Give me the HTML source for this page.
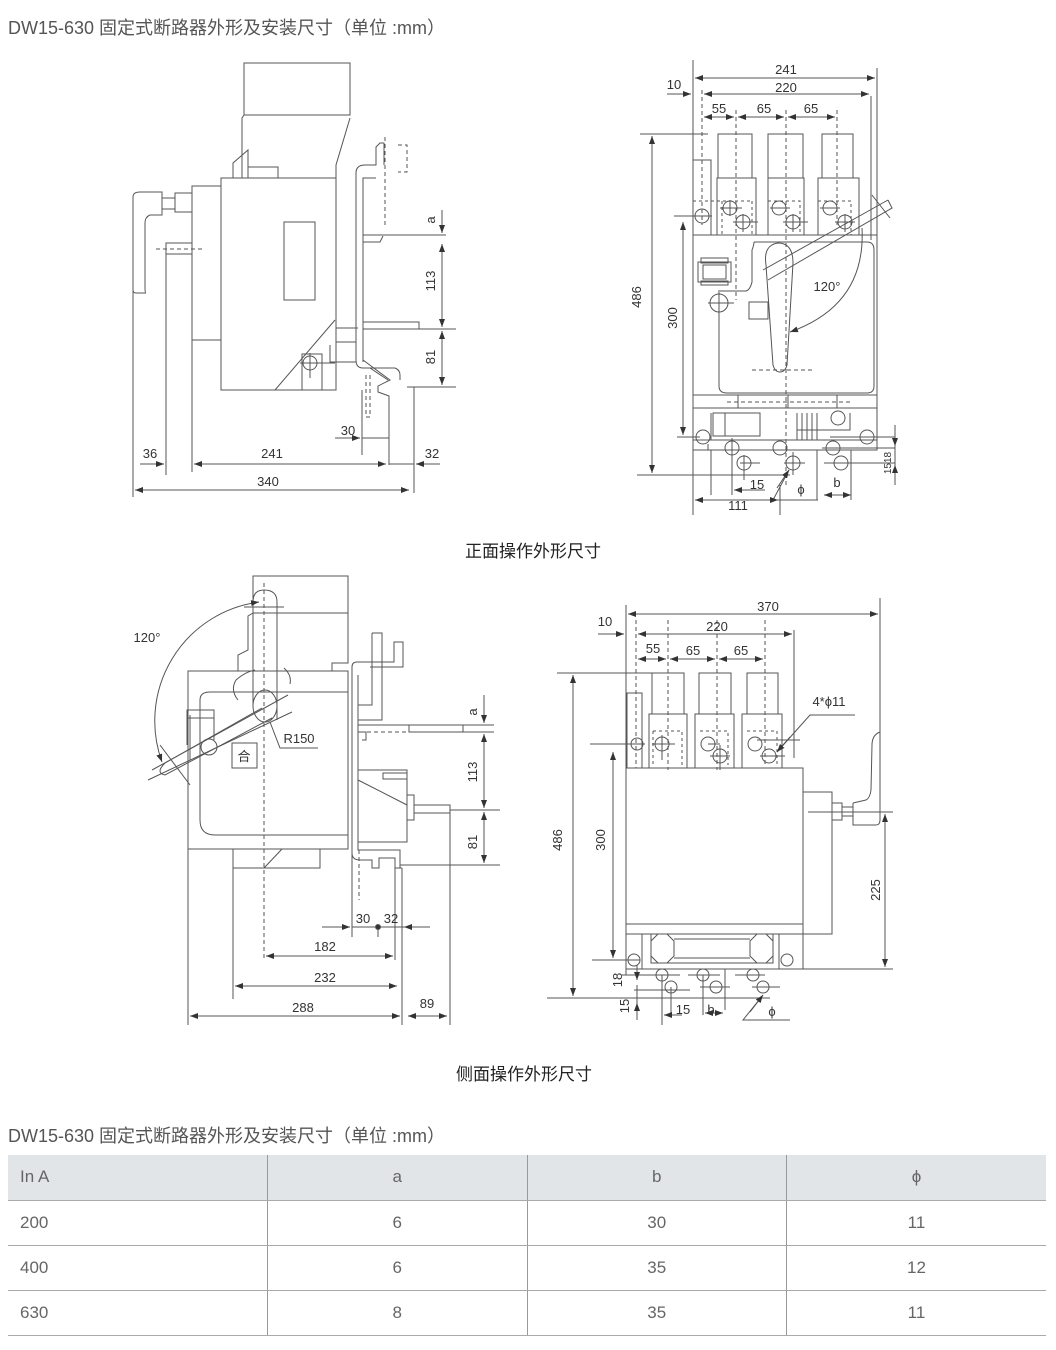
<!DOCTYPE html>
<html><head><meta charset="utf-8">
<style>
html,body{margin:0;padding:0;background:#fff;}
body{width:1056px;height:1350px;position:relative;overflow:hidden;font-family:"Liberation Sans","Noto Sans CJK SC",sans-serif;color:#555;}
.t{position:absolute;font-size:18px;color:#555;white-space:nowrap;}
svg{position:absolute;left:0;top:0;}
svg text{font-family:"Liberation Sans","Noto Sans CJK SC",sans-serif;fill:#333;font-size:13px;}
table{position:absolute;left:8px;top:1155px;width:1038px;border-collapse:collapse;table-layout:fixed;font-size:17px;color:#666;}
td{height:45px;border-bottom:1px solid #aaa;border-left:1px solid #999;text-align:center;padding:0;box-sizing:border-box;}
td:first-child{border-left:none;text-align:left;padding-left:12px;}
tr.h td{background:#e1e5e8;}
</style></head><body>
<div class="t" style="left:8px;top:14px;">DW15-630 固定式断路器外形及安装尺寸（单位 :mm）</div>
<div class="t" style="left:465px;top:537px;color:#222;font-size:17px;">正面操作外形尺寸</div>
<div class="t" style="left:456px;top:1060px;color:#222;font-size:17px;">侧面操作外形尺寸</div>
<div class="t" style="left:8px;top:1122px;">DW15-630 固定式断路器外形及安装尺寸（单位 :mm）</div>
<svg width="1056" height="1150" viewBox="0 0 1056 1150">
<defs><marker id="a" markerWidth="8" markerHeight="6" refX="8" refY="3" orient="auto-start-reverse" markerUnits="userSpaceOnUse"><path d="M0,0L8,3L0,6z" fill="#333"/></marker></defs>
<g fill="none" stroke="#555" stroke-width="1">
<!-- Drawing 1 -->
<rect x="244" y="63" width="106" height="52"/>
<path d="M244,115L242,118V178M350,118L336,165V178"/>
<path d="M233,178V163L248,150V178"/>
<rect x="248" y="167" width="30" height="11"/>
<rect x="221" y="178" width="115" height="212"/>
<rect x="284" y="222" width="31" height="78"/>
<path d="M192,472V186H221M192,340H221"/>
<path d="M146,293H136Q133,293 133,290V197Q133,192 140,192H162V215H150Q145,217 145,223V288Q145,293 146,293M133,290V497"/>
<rect x="162" y="198" width="13" height="11"/><rect x="175" y="193" width="17" height="19"/>
<rect x="166" y="243" width="26" height="11"/><path d="M166,254V475"/>
<path d="M156,249H203" stroke-dasharray="4,3"/>
<path d="M275,390L335,320"/>
<rect x="302" y="354" width="20" height="36"/><circle cx="310" cy="363" r="7"/><path d="M300,363H335M310,353V378"/>
<path d="M336,328H358M330,345V362H356M336,342H356"/>
<path d="M356,360V173Q356,165 365,165H376V147L380,143H384V165"/>
<path d="M363,362V178H376"/>
<path d="M363,235H446M363,242H380L383,236M363,322H419V329M363,329H456M407,387H456"/>
<path d="M356,360Q356,368 363,368H370L388,380"/>
<path d="M363,360L390,380L378,386V392L389,396V465M370,368H395Q400,370 400,375V380"/>
<path d="M385,137V225M398,145H407V172H398" stroke-dasharray="4,3"/>
<path d="M366,375V417H370V375" stroke-dasharray="4,3"/>
<path d="M362,390V455M414,387V493"/>
<path d="M442,210V233" marker-end="url(#a)"/><path d="M442,244V327" marker-start="url(#a)" marker-end="url(#a)"/><path d="M442,331V385" marker-start="url(#a)" marker-end="url(#a)"/>
<path d="M140,464H164" marker-end="url(#a)"/><path d="M194,464H386" marker-start="url(#a)" marker-end="url(#a)"/><path d="M389,464H414M440,464H416" marker-end="url(#a)"/>
<path d="M335,438H360" marker-end="url(#a)"/><path d="M362,438H389"/>
<path d="M135,490H409" marker-start="url(#a)" marker-end="url(#a)"/>
<!-- Drawing 2 -->
<path d="M693,60V515M877,68V246"/>
<path d="M695,78H875" marker-start="url(#a)" marker-end="url(#a)"/>
<path d="M667,94H691" marker-end="url(#a)"/><path d="M704,94H869" marker-start="url(#a)" marker-end="url(#a)"/>
<path d="M704,117H734" marker-start="url(#a)" marker-end="url(#a)"/><path d="M738,117H784" marker-start="url(#a)" marker-end="url(#a)"/><path d="M788,117H835" marker-start="url(#a)" marker-end="url(#a)"/>
<path d="M871,96V240"/>
<path d="M702,90V225M736,110V300M786,110V485M837,110V225" stroke-dasharray="4,3"/>
<path d="M640,134H708M637,475H790"/>
<path d="M652,136V473" marker-start="url(#a)" marker-end="url(#a)"/>
<path d="M683,222V435" marker-start="url(#a)" marker-end="url(#a)"/>
<path d="M677,437H700"/>
<rect x="718" y="134" width="34" height="44"/><rect x="768" y="134" width="35" height="44"/><rect x="822" y="134" width="31" height="44"/>
<rect x="717" y="178" width="39" height="57"/><rect x="768" y="178" width="36" height="57"/><rect x="818" y="178" width="41" height="57"/>
<rect x="693" y="160" width="18" height="75"/>
<path d="M693,201H752M722,201V235M752,201V235M768,201H800V235M818,201H851V235" stroke-dasharray="3,3"/>
<rect x="693" y="235" width="184" height="160"/>
<path d="M754,242H867Q874,242 874,250V386Q874,393 867,393H727Q719,393 719,386V303M754,242Q754,245 752,250V282Q750,290 746,291H720"/>
<rect x="698" y="262" width="33" height="20"/><rect x="701" y="258" width="27" height="5"/><rect x="701" y="281" width="27" height="4"/><rect x="703" y="265" width="23" height="14"/>
<rect x="749" y="302" width="19" height="17"/>
<path d="M766,265Q763,245 778,243Q793,243 793,263L787,365Q785,372 780,372Q775,372 773,365Z"/>
<path d="M763,270L888,200M768,280L892,208M888,200L892,208L768,280" />
<path d="M872,195L890,218"/>
<path d="M862,228Q866,305 790,332" marker-end="url(#a)"/>
<path d="M752,370H812" stroke-dasharray="4,3"/>
<path d="M693,395V408H877V395M693,408V440H877V408"/>
<path d="M738,395V408M788,395V408M837,395V408"/>
<path d="M727,402H850" stroke-dasharray="4,3"/>
<rect x="713" y="413" width="47" height="23"/><path d="M725,413V436M711,413V440"/>
<path d="M797,413V440M802,413V440M807,413V440M812,413V440M817,413V440M797,430H850V413"/>
<path d="M693,440V450H708V444M708,450H877V440"/>
<path d="M817,450V500M711,450V495"/>
<g>
<circle cx="702" cy="216" r="7"/><circle cx="730" cy="208" r="7"/><circle cx="743" cy="222" r="7"/><circle cx="779" cy="208" r="7"/><circle cx="793" cy="222" r="7"/><circle cx="830" cy="208" r="7"/><circle cx="845" cy="222" r="7"/>
<circle cx="719" cy="303" r="9"/>
<circle cx="703" cy="437" r="7"/><circle cx="867" cy="437" r="7"/><circle cx="732" cy="448" r="7"/><circle cx="744" cy="463" r="7"/><circle cx="780" cy="448" r="7"/><circle cx="793" cy="463" r="7"/><circle cx="833" cy="448" r="7"/><circle cx="841" cy="463" r="7"/><circle cx="838" cy="418" r="7"/>
</g>
<path d="M674,216H712M719,290V316M708,303H734M720,208H742M733,222H758M770,208H790M783,222H808M820,208H840M835,222H855M730,200V216M743,214V232M793,214V232M845,214V232"/>
<path d="M732,438V495M744,455V480M740,463H760M784,463H805M793,452V475M824,463H895M822,448H895M830,437H895"/>
<path d="M895,425V446" marker-end="url(#a)"/><path d="M895,465V485" marker-start="url(#a)"/><path d="M895,446V465"/>
<path d="M743,490H765M758,490H734" marker-end="url(#a)"/>
<path d="M789,470L773,500H818"/><path d="M789,470L777,488" marker-start="url(#a)"/>
<path d="M824,495H851" marker-start="url(#a)" marker-end="url(#a)"/><path d="M851,450V500"/>
<path d="M695,500H778" marker-start="url(#a)" marker-end="url(#a)"/><path d="M780,485V515"/>
<!-- Drawing 3 -->
<rect x="253" y="576" width="95" height="37"/>
<path d="M348,613V663H332V671"/>
<rect x="188" y="671" width="160" height="178"/>
<path d="M210,692H348M210,692Q200,692 200,700V820Q200,835 215,835H348"/>
<path d="M188,849V1025M233,849V999"/>
<rect x="233" y="849" width="87" height="19"/><path d="M264,868L282,849"/>
<path d="M253,613L248,616V650L238,655V671"/>
<path d="M253,602Q253,590 264,590Q277,590 277,602V720"/>
<path d="M253,602V705"/>
<path d="M264,583V960" stroke-dasharray="4,3"/>
<path d="M244,607H284"/>
<path d="M238,700Q230,690 236,680Q245,672 255,670M284,668Q292,675 290,684"/>
<ellipse cx="265" cy="706" rx="12" ry="16"/>
<path d="M152,770L288,695M148,780L292,712"/>
<path d="M165,763Q155,773 165,775L272,718M165,763L262,708"/>
<path d="M160,745L190,785"/>
<circle cx="209" cy="747" r="8"/>
<rect x="187" y="710" width="27" height="8"/><path d="M187,718V745M214,718V740"/>
<path d="M190,715V760"/>
<rect x="232" y="743" width="25" height="25"/>
<path d="M259,602A120,120 0 0 0 162,762" marker-start="url(#a)" marker-end="url(#a)"/>
<path d="M270,722L280,748H318"/>
<path d="M352,853V667Q352,662 357,662H394V642H403V667H370"/>
<path d="M358,850V675M372,633H382V720H358M372,633V705H358"/>
<path d="M358,725H409M358,732H366V740H362"/>
<rect x="409" y="725" width="54" height="7"/>
<path d="M360,732H408" stroke-dasharray="4,3"/>
<rect x="358" y="770" width="49" height="72"/><path d="M358,780L407,805"/>
<rect x="383" y="773" width="24" height="6"/>
<rect x="407" y="795" width="7" height="25"/>
<path d="M414,805H450V813H414M450,805V1025"/>
<path d="M352,853Q352,860 360,860H372V868H379V858H395V868H402"/>
<path d="M358,842V850H400V868"/>
<path d="M352,855V935M359,850V900" stroke-dasharray="4,3"/>
<path d="M484,695V723" marker-end="url(#a)"/><path d="M484,734V808" marker-start="url(#a)" marker-end="url(#a)"/><path d="M484,812V863" marker-start="url(#a)" marker-end="url(#a)"/>
<path d="M463,725H494M463,732H494M450,810H500M400,865H500"/>
<path d="M352,850V937M402,868V1025"/>
<path d="M322,927H350" marker-end="url(#a)"/><path d="M430,927H404" marker-end="url(#a)"/><path d="M352,927H404M378,927V937"/>
<circle cx="378" cy="927" r="2.5" fill="#333"/>
<path d="M266,956H393" marker-start="url(#a)" marker-end="url(#a)"/><path d="M395,868V960"/>
<path d="M235,986H397" marker-start="url(#a)" marker-end="url(#a)"/>
<path d="M190,1016H400" marker-start="url(#a)" marker-end="url(#a)"/><path d="M408,1016H447" marker-start="url(#a)" marker-end="url(#a)"/>
<!-- Drawing 4 -->
<path d="M626,605V975M880,598V820"/>
<path d="M628,614H878" marker-start="url(#a)" marker-end="url(#a)"/>
<path d="M598,634H624" marker-end="url(#a)"/><path d="M638,634H792" marker-start="url(#a)" marker-end="url(#a)"/>
<path d="M794,630V758"/>
<path d="M638,659H666" marker-start="url(#a)" marker-end="url(#a)"/><path d="M670,659H715" marker-start="url(#a)" marker-end="url(#a)"/><path d="M719,659H763" marker-start="url(#a)" marker-end="url(#a)"/>
<path d="M636,620V768M668,620V770M717,620V770M765,620V765" stroke-dasharray="4,3"/>
<path d="M557,673H684M547,998H770"/>
<path d="M573,675V996" marker-start="url(#a)" marker-end="url(#a)"/>
<path d="M613,752V958" marker-start="url(#a)" marker-end="url(#a)"/><path d="M592,960H640"/>
<rect x="652" y="673" width="32" height="41"/><rect x="699" y="673" width="32" height="41"/><rect x="747" y="673" width="31" height="41"/>
<rect x="649" y="714" width="38" height="54"/><rect x="695" y="714" width="39" height="54"/><rect x="742" y="714" width="40" height="54"/>
<rect x="627" y="693" width="15" height="75"/>
<path d="M653,731H682V765M653,731V765M700,731H728V765M747,731H777V765" stroke-dasharray="3,3"/>
<rect x="626" y="768" width="177" height="156"/>
<rect x="626" y="924" width="177" height="10"/>
<rect x="626" y="934" width="177" height="35"/>
<path d="M803,792H832V934H803"/>
<rect x="832" y="803" width="10" height="17"/><rect x="842" y="807" width="11" height="9"/>
<path d="M853,803L866,800Q870,798 871,790L872,745Q872,735 880,732M853,803V825H876Q880,825 880,820"/>
<path d="M808,812H893M803,969H893"/>
<path d="M885,814V967" marker-start="url(#a)" marker-end="url(#a)"/>
<path d="M651,934H773V963H651Z"/>
<path d="M651,941L658,934H667L674,941V956L667,963H658L651,956ZM750,941L757,934H766L773,941V956L766,963H757L750,956Z"/>
<path d="M674,939H750M674,958H750"/>
<path d="M642,934V969M779,934V969"/>
<g>
<circle cx="637" cy="744" r="6"/><circle cx="662" cy="744" r="7"/><circle cx="708" cy="744" r="7"/><circle cx="720" cy="756" r="7"/><circle cx="755" cy="744" r="7"/><circle cx="769" cy="756" r="7"/>
<circle cx="634" cy="960" r="6"/><circle cx="787" cy="960" r="6"/><circle cx="662" cy="975" r="6"/><circle cx="671" cy="987" r="6"/><circle cx="703" cy="975" r="6"/><circle cx="716" cy="987" r="6"/><circle cx="753" cy="975" r="6"/><circle cx="763" cy="987" r="6"/>
</g>
<path d="M590,744H645M652,744H675M708,744H720M710,756H730M760,756H785M720,745V770M662,735V760M757,740H800"/>
<path d="M622,975H680M634,990H690M688,975H720M700,987H730M735,975H765M752,987H780M662,975V1025M671,987V1015M703,975V1015M725,969V1010"/>
<path d="M637,965V980" marker-end="url(#a)"/><path d="M637,985V1003"/><path d="M637,1003V1020" marker-start="url(#a)"/>
<path d="M682,1015H664" marker-end="url(#a)"/>
<path d="M705,1013H723" marker-start="url(#a)" marker-end="url(#a)"/>
<path d="M763,995L743,1020H790"/><path d="M763,995L750,1012" marker-start="url(#a)"/>
<path d="M777,752L810,715H855"/><path d="M777,752L790,737" marker-start="url(#a)"/>
</g>
<g>
<text x="786" y="74" text-anchor="middle">241</text>
<text x="786" y="92" text-anchor="middle">220</text>
<text x="674" y="89" text-anchor="middle">10</text>
<text x="719" y="113" text-anchor="middle">55</text>
<text x="764" y="113" text-anchor="middle">65</text>
<text x="811" y="113" text-anchor="middle">65</text>
<text x="827" y="291" text-anchor="middle">120°</text>
<text x="757" y="489" text-anchor="middle">15</text>
<text x="801" y="494" text-anchor="middle">ϕ</text>
<text x="837" y="487" text-anchor="middle">b</text>
<text x="738" y="510" text-anchor="middle">111</text>
<text transform="translate(641,297) rotate(-90)" text-anchor="middle">486</text>
<text transform="translate(677,318) rotate(-90)" text-anchor="middle">300</text>
<text transform="translate(891,463) rotate(-90)" text-anchor="middle" style="font-size:10px">1518</text>
<text transform="translate(435,220) rotate(-90)" text-anchor="middle">a</text>
<text transform="translate(435,281) rotate(-90)" text-anchor="middle">113</text>
<text transform="translate(435,357) rotate(-90)" text-anchor="middle">81</text>
<text x="150" y="458" text-anchor="middle">36</text>
<text x="272" y="458" text-anchor="middle">241</text>
<text x="432" y="458" text-anchor="middle">32</text>
<text x="348" y="435" text-anchor="middle">30</text>
<text x="268" y="486" text-anchor="middle">340</text>
<text x="147" y="642" text-anchor="middle">120°</text>
<text x="299" y="743" text-anchor="middle">R150</text>
<text x="244" y="761" text-anchor="middle">合</text>
<text transform="translate(477,712) rotate(-90)" text-anchor="middle">a</text>
<text transform="translate(477,772) rotate(-90)" text-anchor="middle">113</text>
<text transform="translate(477,842) rotate(-90)" text-anchor="middle">81</text>
<text x="363" y="923" text-anchor="middle">30</text>
<text x="391" y="923" text-anchor="middle">32</text>
<text x="325" y="951" text-anchor="middle">182</text>
<text x="325" y="982" text-anchor="middle">232</text>
<text x="303" y="1012" text-anchor="middle">288</text>
<text x="427" y="1008" text-anchor="middle">89</text>
<text x="768" y="611" text-anchor="middle">370</text>
<text x="605" y="626" text-anchor="middle">10</text>
<text x="717" y="631" text-anchor="middle">220</text>
<text x="653" y="653" text-anchor="middle">55</text>
<text x="693" y="655" text-anchor="middle">65</text>
<text x="741" y="655" text-anchor="middle">65</text>
<text x="829" y="706" text-anchor="middle">4*ϕ11</text>
<text transform="translate(562,840) rotate(-90)" text-anchor="middle">486</text>
<text transform="translate(605,840) rotate(-90)" text-anchor="middle">300</text>
<text transform="translate(880,890) rotate(-90)" text-anchor="middle">225</text>
<text transform="translate(622,980) rotate(-90)" text-anchor="middle">18</text>
<text transform="translate(629,1006) rotate(-90)" text-anchor="middle">15</text>
<text x="683" y="1014" text-anchor="middle">15</text>
<text x="711" y="1014" text-anchor="middle">b</text>
<text x="772" y="1016" text-anchor="middle">ϕ</text>
</g>
</svg>
<table>
<colgroup><col style="width:259.5px"><col style="width:259.5px"><col style="width:259.5px"><col style="width:259.5px"></colgroup>
<tr class="h"><td>In A</td><td>a</td><td>b</td><td>ϕ</td></tr>
<tr><td>200</td><td>6</td><td>30</td><td>11</td></tr>
<tr><td>400</td><td>6</td><td>35</td><td>12</td></tr>
<tr><td>630</td><td>8</td><td>35</td><td>11</td></tr>
</table>
</body></html>
